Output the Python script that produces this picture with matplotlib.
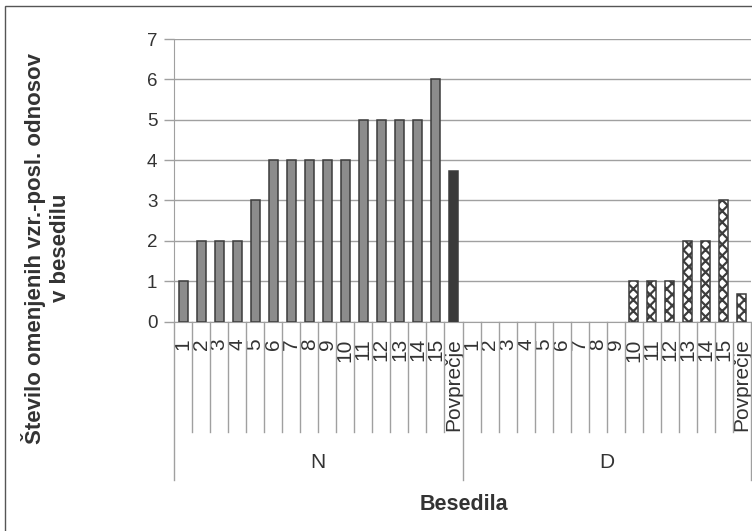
import matplotlib.pyplot as plt
import matplotlib.patches as mpatches
import matplotlib.transforms as mtransforms

plt.rcParams['font.family'] = ['Liberation Sans', 'DejaVu Sans']
plt.rcParams['hatch.linewidth'] = 1.6

groups = ["N", "D"]
text_labels = [str(i) for i in range(1, 16)] + ["Povprečje"]

n_values = [1, 2, 2, 2, 3, 4, 4, 4, 4, 4, 5, 5, 5, 5, 6, 3.73]
d_values = [0, 0, 0, 0, 0, 0, 0, 0, 0, 1, 1, 1, 2, 2, 3, 0.67]

ylabel = "Število omenjenih vzr.-posl. odnosov\nv besedilu"
xlabel = "Besedila"

txt = '#333333'
grid_c = '#a0a0a0'
edge = '#3c3c3c'

fig = plt.figure(figsize=(7.52, 5.31), dpi=100)
ax = fig.add_axes([174 / 752, 1 - 321.5 / 531, 577 / 752, 282.5 / 531])

n = len(text_labels)
x_n = list(range(n))
x_d = [i + n for i in range(n)]

ax.bar(x_n[:15], n_values[:15], width=0.5, color='#8c8c8c', edgecolor=edge, linewidth=1.1, zorder=3)
ax.bar(x_n[15], n_values[15], width=0.5, color='#3a3a3a', edgecolor=edge, linewidth=1.1, zorder=3)
# nothing is drawn for the zero values
d_pos = [x for x, v in zip(x_d, d_values) if v > 0]
d_val = [v for v in d_values if v > 0]
ax.bar(d_pos, d_val, width=0.5, color='white', edgecolor=edge, hatch='xxx', linewidth=1.1, zorder=3)

ax.set_ylim(0, 7)
ax.set_xlim(-0.5, 2 * n - 0.5)
ax.set_yticks(range(8))
ax.yaxis.grid(True, color=grid_c, linewidth=1)
ax.set_axisbelow(True)
ax.tick_params(axis='y', labelsize=13.5, colors=grid_c, labelcolor=txt, length=7, width=1, pad=5)
for s in ['top', 'right']:
    ax.spines[s].set_visible(False)
for s in ['left', 'bottom']:
    ax.spines[s].set_color(grid_c)

ax.set_xticks(x_n + x_d)
ax.set_xticklabels(text_labels * 2, rotation=90, fontsize=15, color=txt)
ax.tick_params(axis='x', length=0, pad=12)

# category separators (short) and group separators (long)
trans = mtransforms.blended_transform_factory(ax.transData, ax.transAxes)
for g in range(2):
    for k in range(1, n):
        xb = g * n + k - 0.5
        ax.plot([xb, xb], [0, -110 / 282.5], transform=trans, color=grid_c, lw=1, clip_on=False)
for xb in [-0.5, n - 0.5, 2 * n - 0.5]:
    ax.plot([xb, xb], [0, -158 / 282.5], transform=trans, color=grid_c, lw=1, clip_on=False)

for g, name in enumerate(groups):
    ax.text(g * n + (n - 1) / 2, -141 / 282.5, name, transform=trans, ha='center', va='center',
            fontsize=15, color=txt)

fig.text(464 / 752, 1 - 505 / 531, xlabel, ha='center', va='center', fontsize=15.5,
         fontweight='bold', color=txt)
fig.text(46 / 752, 1 - 248 / 531, ylabel, ha='center', va='center', rotation=90, fontsize=16,
         fontweight='bold', color=txt, linespacing=1.25, multialignment='center')

fig.patches.append(mpatches.Rectangle((5 / 752, -0.05), 1.0, 1 - 6 / 531 + 0.05, transform=fig.transFigure,
                                      fill=False, edgecolor='#555555', linewidth=1))

fig.savefig('out.png', dpi=100)
